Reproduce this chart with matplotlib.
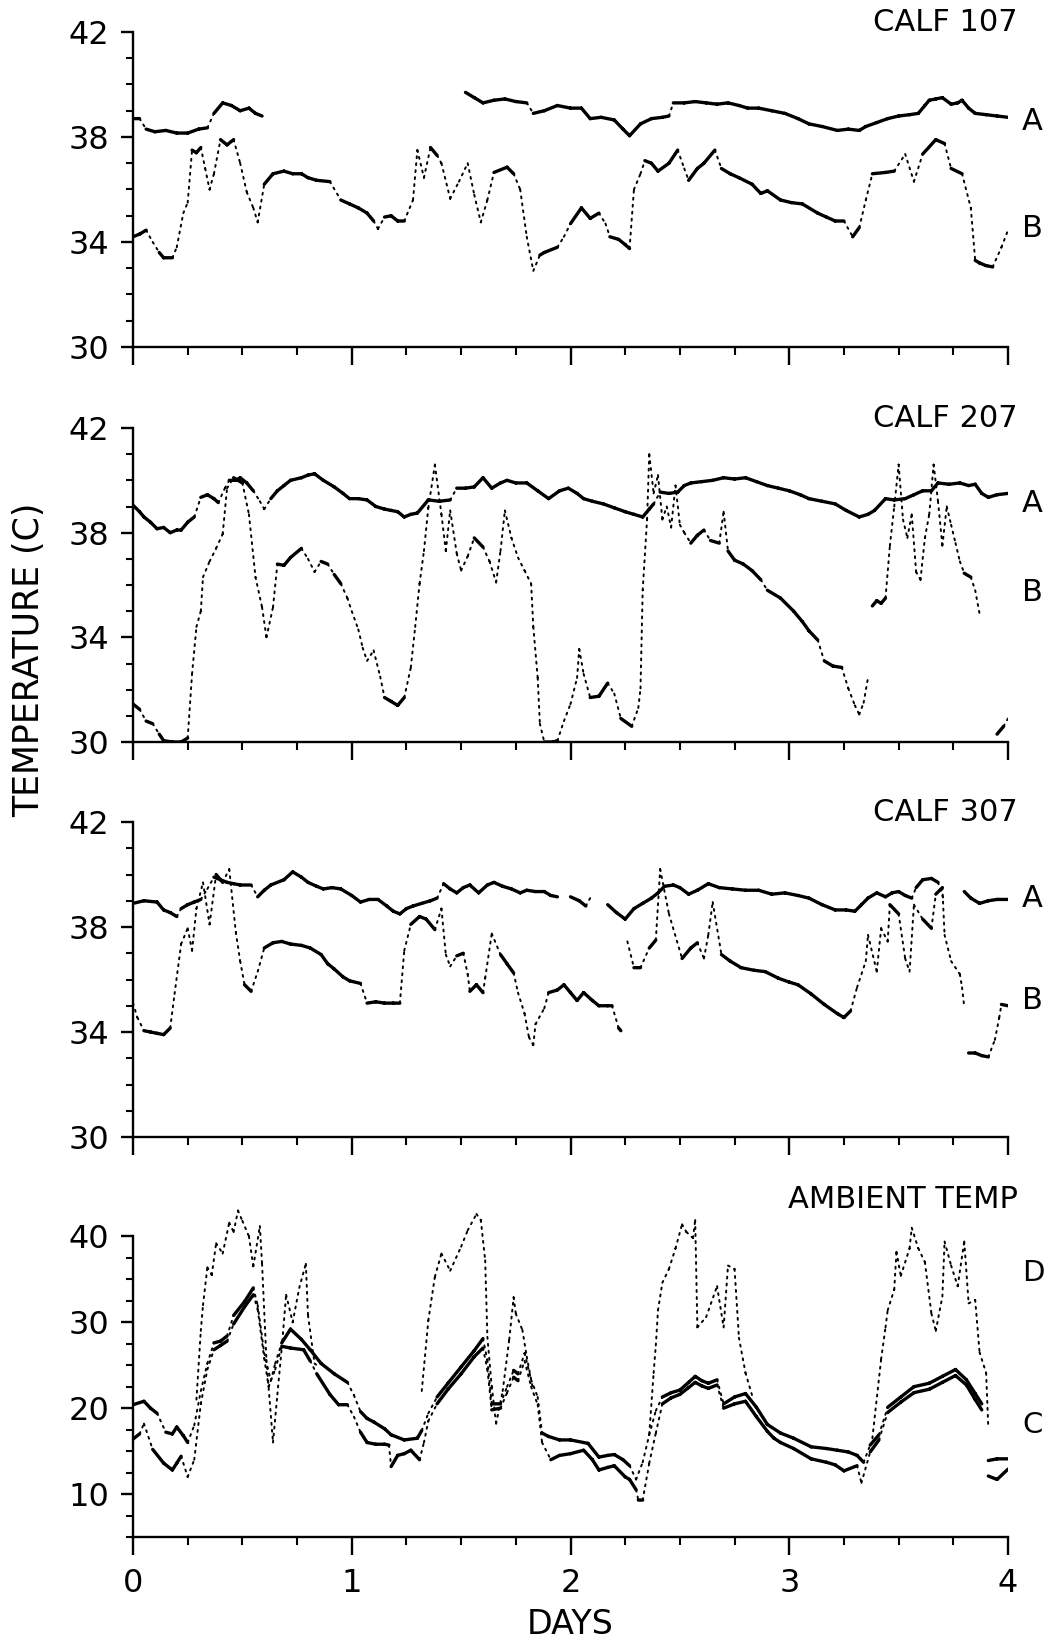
import numpy as np
import matplotlib
matplotlib.use("Agg")
import matplotlib.pyplot as plt
from matplotlib.ticker import MultipleLocator, FixedLocator

nan = float("nan")

# ---------------- data ----------------
calf107_a_day = [0.00, 0.03, 0.06, 0.10, 0.15, 0.20, 0.25, 0.30, 0.34, 0.37, 0.41, 0.45, 0.49, 0.53, 0.56, 0.59, 0.80,
                 1.52, 1.56, 1.60, 1.65, 1.70, 1.75, 1.80, 1.83, 1.88, 1.94, 2.00, 2.05, 2.09, 2.14, 2.20, 2.24, 2.27,
                 2.32, 2.37, 2.42, 2.45, 2.47, 2.52, 2.57, 2.62, 2.67, 2.72, 2.77, 2.81, 2.86, 2.92, 2.98, 3.04, 3.09,
                 3.15, 3.22, 3.27, 3.32, 3.35, 3.40, 3.45, 3.50, 3.55, 3.59, 3.62, 3.64, 3.67, 3.70, 3.74, 3.77, 3.79,
                 3.82, 3.85, 3.90, 3.95, 4.00]
calf107_a_temp = [38.7, 38.7, 38.3, 38.2, 38.25, 38.15, 38.15, 38.3, 38.35, 38.9, 39.3, 39.2, 39.0, 39.1, 38.9, 38.8, nan,
                  39.7, 39.5, 39.3, 39.4, 39.45, 39.35, 39.3, 38.9, 39.0, 39.2, 39.1, 39.1, 38.7, 38.75, 38.65, 38.3, 38.05,
                  38.5, 38.7, 38.75, 38.8, 39.3, 39.3, 39.35, 39.3, 39.25, 39.3, 39.2, 39.1, 39.1, 39.0, 38.9, 38.7, 38.5,
                  38.4, 38.25, 38.3, 38.25, 38.4, 38.55, 38.7, 38.8, 38.85, 38.9, 39.2, 39.4, 39.45, 39.5, 39.25, 39.3, 39.4,
                  39.1, 38.9, 38.85, 38.8, 38.75]

calf107_b_day = [0.00, 0.03, 0.06, 0.09, 0.12, 0.14, 0.18, 0.20, 0.23, 0.25, 0.27, 0.29, 0.31, 0.33, 0.35, 0.37, 0.40,
                 0.43, 0.46, 0.49, 0.52, 0.55, 0.57, 0.60, 0.64, 0.69, 0.73, 0.77, 0.80, 0.84, 0.90, 0.95, 0.99, 1.03,
                 1.07, 1.10, 1.12, 1.15, 1.18, 1.21, 1.24, 1.28, 1.30, 1.33, 1.36, 1.39, 1.41, 1.45, 1.49, 1.53, 1.56,
                 1.59, 1.62, 1.65, 1.71, 1.74, 1.77, 1.80, 1.83, 1.86, 1.88, 1.94, 1.97, 2.00, 2.05, 2.09, 2.13, 2.16,
                 2.18, 2.22, 2.25, 2.27, 2.29, 2.32, 2.34, 2.37, 2.40, 2.45, 2.49, 2.52, 2.54, 2.58, 2.61, 2.66, 2.69,
                 2.73, 2.77, 2.83, 2.87, 2.90, 2.96, 3.01, 3.06, 3.13, 3.17, 3.21, 3.25, 3.29, 3.32, 3.35, 3.38, 3.44,
                 3.48, 3.53, 3.57, 3.61, 3.67, 3.71, 3.74, 3.79, 3.83, 3.85, 3.87, 3.90, 3.93, 3.97, 4.00]
calf107_b_temp = [34.2, 34.3, 34.45, 34.0, 33.6, 33.4, 33.4, 33.8, 35.1, 35.5, 37.5, 37.4, 37.6, 36.8, 36.0, 36.6, 37.9,
                  37.7, 37.9, 37.0, 35.9, 35.3, 34.75, 36.2, 36.6, 36.7, 36.6, 36.6, 36.45, 36.35, 36.3, 35.6, 35.45, 35.3,
                  35.1, 34.8, 34.5, 34.95, 35.0, 34.8, 34.8, 35.6, 37.5, 36.45, 37.6, 37.3, 37.0, 35.65, 36.3, 37.0, 35.8,
                  34.75, 35.6, 36.65, 36.85, 36.6, 36.0, 34.2, 32.9, 33.5, 33.6, 33.8, 34.2, 34.7, 35.3, 34.9, 35.1, 34.7,
                  34.2, 34.1, 33.9, 33.75, 36.0, 36.6, 37.1, 37.0, 36.7, 37.0, 37.5, 36.8, 36.35, 36.8, 37.0, 37.5, 36.8,
                  36.6, 36.45, 36.2, 35.85, 35.95, 35.6, 35.5, 35.45, 35.1, 34.95, 34.8, 34.8, 34.2, 34.55, 35.6, 36.6, 36.65,
                  36.7, 37.35, 36.3, 37.35, 37.9, 37.75, 36.8, 36.6, 35.3, 33.3, 33.2, 33.1, 33.05, 33.8, 34.45]

calf207_a_day = [0.00, 0.03, 0.05, 0.08, 0.11, 0.14, 0.17, 0.20, 0.22, 0.25, 0.28, 0.31, 0.34, 0.37, 0.39, 0.42, 0.44,
                 0.47, 0.49, 0.52, 0.55, 0.58, 0.60, 0.63, 0.66, 0.69, 0.72, 0.77, 0.80, 0.83, 0.87, 0.92, 0.96, 0.99,
                 1.03, 1.07, 1.11, 1.15, 1.18, 1.21, 1.24, 1.27, 1.30, 1.35, 1.40, 1.45, 1.48, 1.52, 1.56, 1.60, 1.64,
                 1.68, 1.71, 1.75, 1.80, 1.85, 1.90, 1.95, 1.99, 2.03, 2.06, 2.10, 2.15, 2.20, 2.25, 2.29, 2.33, 2.36,
                 2.38, 2.41, 2.45, 2.49, 2.52, 2.55, 2.60, 2.65, 2.70, 2.75, 2.80, 2.85, 2.90, 2.95, 3.00, 3.05, 3.09,
                 3.15, 3.21, 3.26, 3.32, 3.36, 3.39, 3.44, 3.48, 3.53, 3.57, 3.61, 3.65, 3.68, 3.73, 3.78, 3.82, 3.85,
                 3.88, 3.91, 3.95, 4.00]
calf207_a_temp = [39.05, 38.8, 38.6, 38.4, 38.15, 38.2, 38.0, 38.1, 38.1, 38.4, 38.6, 39.35, 39.45, 39.3, 39.15, 39.7, 40.0,
                  40.0, 40.1, 39.9, 39.6, 39.2, 38.9, 39.3, 39.6, 39.8, 40.0, 40.1, 40.2, 40.25, 40.0, 39.75, 39.5, 39.3,
                  39.3, 39.25, 39.0, 38.9, 38.85, 38.8, 38.6, 38.7, 38.75, 39.25, 39.2, 39.25, 39.7, 39.7, 39.75, 40.1, 39.7,
                  39.9, 40.0, 39.9, 39.9, 39.6, 39.3, 39.6, 39.7, 39.5, 39.3, 39.2, 39.1, 38.95, 38.8, 38.7, 38.6, 38.9,
                  39.1, 39.55, 39.5, 39.55, 39.8, 39.9, 39.95, 40.0, 40.1, 40.05, 40.1, 39.95, 39.8, 39.7, 39.6, 39.45, 39.3,
                  39.2, 39.1, 38.85, 38.6, 38.7, 38.85, 39.3, 39.25, 39.3, 39.45, 39.6, 39.6, 39.9, 39.85, 39.9, 39.8, 39.85,
                  39.5, 39.35, 39.45, 39.5]

calf207_b_day = [0.00, 0.03, 0.06, 0.09, 0.12, 0.14, 0.18, 0.22, 0.25, 0.27, 0.29, 0.31, 0.32, 0.35, 0.38, 0.41, 0.43,
                 0.46, 0.50, 0.53, 0.56, 0.59, 0.61, 0.64, 0.66, 0.69, 0.72, 0.77, 0.80, 0.83, 0.86, 0.89, 0.92, 0.95,
                 0.98, 1.00, 1.03, 1.05, 1.07, 1.10, 1.13, 1.15, 1.18, 1.21, 1.24, 1.27, 1.29, 1.31, 1.33, 1.35, 1.38,
                 1.41, 1.43, 1.45, 1.48, 1.50, 1.53, 1.56, 1.60, 1.63, 1.66, 1.68, 1.70, 1.73, 1.76, 1.79, 1.82, 1.83,
                 1.85, 1.86, 1.88, 1.92, 1.94, 1.97, 2.00, 2.03, 2.04, 2.06, 2.09, 2.13, 2.17, 2.20, 2.23, 2.28, 2.31,
                 2.32, 2.33, 2.35, 2.36, 2.38, 2.40, 2.42, 2.44, 2.46, 2.48, 2.50, 2.52, 2.55, 2.58, 2.61, 2.64, 2.68,
                 2.70, 2.72, 2.75, 2.79, 2.83, 2.87, 2.90, 2.96, 3.02, 3.06, 3.09, 3.13, 3.16, 3.20, 3.24, 3.27, 3.30,
                 3.32, 3.34, 3.36, 3.37, 3.38, 3.40, 3.42, 3.44, 3.46, 3.48, 3.50, 3.52, 3.54, 3.56, 3.58, 3.60, 3.62,
                 3.64, 3.66, 3.68, 3.70, 3.72, 3.74, 3.76, 3.78, 3.80, 3.83, 3.85, 3.87, 3.91, 3.95, 3.98, 4.00]
calf207_b_temp = [31.45, 31.25, 30.8, 30.7, 30.3, 30.05, 30.0, 30.0, 30.15, 32.6, 34.4, 35.0, 36.3, 36.9, 37.4, 37.95, 39.7,
                  40.1, 39.9, 38.7, 36.3, 35.15, 34.0, 35.15, 36.8, 36.75, 37.05, 37.4, 37.0, 36.5, 36.9, 36.8, 36.4, 36.05,
                  35.5, 35.0, 34.3, 33.6, 33.1, 33.5, 32.5, 31.7, 31.55, 31.4, 31.7, 32.85, 34.4, 36.05, 37.3, 38.95, 40.6,
                  38.7, 37.3, 38.85, 37.2, 36.55, 37.1, 37.8, 37.45, 36.9, 36.1, 37.3, 38.85, 37.8, 37.05, 36.55, 36.05, 34.4,
                  32.45, 30.7, 30.0, 30.0, 30.05, 30.8, 31.45, 32.45, 33.55, 32.6, 31.7, 31.75, 32.25, 31.85, 30.9, 30.6, 31.3,
                  32.05, 35.8, 38.5, 41.0, 39.5, 40.2, 38.5, 39.0, 38.2, 39.8, 38.3, 38.0, 37.6, 37.9, 38.1, 37.7, 37.6,
                  38.8, 37.3, 36.95, 36.8, 36.55, 36.2, 35.8, 35.5, 35.0, 34.6, 34.25, 33.9, 33.1, 32.9, 32.85, 32.05, 31.4,
                  31.05, 31.5, 32.45, nan, 35.2, 35.4, 35.3, 35.5, 37.5, 39.0, 40.6, 38.5, 37.8, 38.7, 36.5, 36.2, 37.8,
                  38.7, 40.6, 39.2, 37.5, 39.0, 38.3, 37.6, 36.9, 36.45, 36.3, 35.8, 34.9, nan, 30.3, 30.6, 30.9]

calf307_a_day = [0.00, 0.05, 0.11, 0.14, 0.17, 0.20, 0.22, 0.25, 0.28, 0.31, 0.34, 0.37, 0.40, 0.43, 0.46, 0.49, 0.54,
                 0.57, 0.60, 0.63, 0.69, 0.73, 0.77, 0.80, 0.84, 0.87, 0.91, 0.95, 1.00, 1.04, 1.08, 1.12, 1.16, 1.19,
                 1.22, 1.25, 1.28, 1.32, 1.36, 1.39, 1.42, 1.45, 1.48, 1.51, 1.54, 1.58, 1.62, 1.65, 1.69, 1.73, 1.77,
                 1.80, 1.84, 1.88, 1.91, 1.94, 1.97, 2.00, 2.04, 2.07, 2.09, 2.13, 2.17, 2.21, 2.25, 2.29, 2.33, 2.37,
                 2.40, 2.43, 2.47, 2.50, 2.54, 2.58, 2.63, 2.68, 2.74, 2.80, 2.86, 2.92, 2.98, 3.04, 3.09, 3.15, 3.21,
                 3.26, 3.30, 3.33, 3.36, 3.40, 3.44, 3.47, 3.50, 3.53, 3.56, 3.58, 3.61, 3.65, 3.68, 3.71, 3.75, 3.80,
                 3.83, 3.87, 3.91, 3.95, 4.00]
calf307_a_temp = [38.9, 39.0, 38.95, 38.65, 38.55, 38.4, 38.7, 38.85, 38.95, 39.05, 39.45, 39.9, 39.8, 39.7, 39.65, 39.6, 39.6,
                  39.15, 39.4, 39.6, 39.8, 40.1, 39.9, 39.7, 39.55, 39.45, 39.5, 39.45, 39.2, 38.95, 39.05, 39.05, 38.8, 38.6,
                  38.5, 38.7, 38.8, 38.9, 39.0, 39.1, 39.65, 39.45, 39.3, 39.5, 39.6, 39.3, 39.6, 39.7, 39.55, 39.45, 39.3,
                  39.4, 39.35, 39.35, 39.2, 39.15, nan, 39.15, 39.0, 38.8, 39.1, nan, 38.85, 38.55, 38.3, 38.7, 38.9, 39.1,
                  39.3, 39.55, 39.6, 39.5, 39.25, 39.4, 39.65, 39.5, 39.45, 39.4, 39.4, 39.25, 39.3, 39.2, 39.1, 38.85, 38.65,
                  38.65, 38.6, 38.85, 39.1, 39.3, 39.15, 39.3, 39.35, 39.2, 39.1, 39.5, 39.8, 39.85, 39.7, 38.95, nan, 39.35,
                  39.1, 38.9, 39.0, 39.05, 39.05]

calf307_b_day = [0.00, 0.02, 0.05, 0.08, 0.11, 0.14, 0.17, 0.19, 0.22, 0.25, 0.27, 0.29, 0.32, 0.35, 0.38, 0.41, 0.44,
                 0.47, 0.49, 0.51, 0.54, 0.57, 0.60, 0.64, 0.68, 0.72, 0.77, 0.81, 0.86, 0.89, 0.92, 0.96, 0.99, 1.04,
                 1.07, 1.11, 1.15, 1.19, 1.22, 1.24, 1.27, 1.31, 1.34, 1.38, 1.41, 1.43, 1.45, 1.48, 1.51, 1.53, 1.54,
                 1.57, 1.60, 1.61, 1.64, 1.68, 1.71, 1.74, 1.76, 1.79, 1.81, 1.83, 1.84, 1.88, 1.90, 1.94, 1.97, 2.00,
                 2.03, 2.06, 2.10, 2.13, 2.17, 2.19, 2.22, 2.23, 2.245, 2.26, 2.29, 2.32, 2.36, 2.39, 2.41, 2.45, 2.51,
                 2.55, 2.58, 2.61, 2.63, 2.65, 2.69, 2.73, 2.78, 2.84, 2.89, 2.95, 3.00, 3.04, 3.10, 3.16, 3.22, 3.25,
                 3.28, 3.31, 3.35, 3.36, 3.40, 3.42, 3.45, 3.46, 3.50, 3.53, 3.55, 3.57, 3.61, 3.65, 3.67, 3.70, 3.71,
                 3.74, 3.78, 3.79, 3.80, 3.81, 3.82, 3.85, 3.88, 3.91, 3.94, 3.96, 3.97, 4.00]
calf307_b_temp = [35.1, 34.55, 34.05, 34.0, 33.95, 33.9, 34.15, 35.45, 37.35, 37.95, 37.1, 38.7, 39.7, 38.1, 40.0, 39.7, 40.2,
                  37.8, 36.7, 35.8, 35.55, 36.3, 37.2, 37.4, 37.45, 37.35, 37.3, 37.2, 36.95, 36.6, 36.4, 36.1, 35.95, 35.85,
                  35.1, 35.15, 35.1, 35.1, 35.1, 37.1, 38.1, 38.4, 38.3, 37.9, 38.7, 36.95, 36.5, 36.9, 37.0, 36.2, 35.55,
                  35.8, 35.5, 36.05, 37.75, 36.95, 36.6, 36.25, 35.5, 34.7, 33.8, 33.5, 34.3, 34.9, 35.5, 35.6, 35.8, 35.5,
                  35.2, 35.5, 35.2, 35.0, 35.0, 35.0, 34.15, 34.05, nan, 37.45, 36.45, 36.45, 37.2, 37.5, 40.2, 38.5, 36.8,
                  37.2, 37.4, 36.8, 37.7, 38.95, 36.95, 36.7, 36.45, 36.35, 36.3, 36.05, 35.9, 35.8, 35.45, 35.05, 34.7, 34.55,
                  34.8, 35.7, 36.7, 37.7, 36.3, 37.95, 37.45, 38.85, 38.5, 36.8, 36.3, 38.85, 38.3, 37.95, 39.25, 39.5, 37.7,
                  36.7, 36.2, 35.7, 34.95, nan, 33.2, 33.2, 33.1, 33.05, 33.7, 34.55, 35.05, 35.0]

ambient_c1_day = [0.00, 0.05, 0.08, 0.11, 0.15, 0.18, 0.20, 0.23, 0.25, 0.28, 0.31, 0.34, 0.37, 0.40, 0.43, 0.46, 0.51,
                  0.55, 0.57, 0.60, 0.63, 0.65, 0.68, 0.72, 0.77, 0.81, 0.86, 0.92, 0.98, 1.01, 1.04, 1.07, 1.10, 1.15,
                  1.18, 1.24, 1.30, 1.32, 1.35, 1.39, 1.44, 1.50, 1.56, 1.60, 1.62, 1.64, 1.68, 1.71, 1.74, 1.76, 1.79,
                  1.82, 1.85, 1.87, 1.90, 1.95, 2.00, 2.08, 2.13, 2.17, 2.20, 2.24, 2.27, 2.30, 2.33, 2.36, 2.39, 2.42,
                  2.46, 2.50, 2.54, 2.57, 2.60, 2.63, 2.67, 2.70, 2.75, 2.80, 2.85, 2.90, 2.96, 3.02, 3.10, 3.17, 3.22,
                  3.27, 3.31, 3.34, 3.37, 3.41, 3.45, 3.51, 3.57, 3.64, 3.70, 3.76, 3.81, 3.85, 3.88, 3.895, 3.91, 3.95,
                  4.00]
ambient_c1_temp = [20.4, 20.8, 20.0, 19.4, 17.2, 17.0, 17.8, 16.8, 16.0, 18.0, 22.0, 25.2, 27.6, 27.8, 28.4, 30.8, 32.4,
                   34.0, 32.0, 26.4, 23.2, 25.2, 27.6, 29.2, 28.0, 26.8, 25.2, 24.0, 23.0, 21.5, 19.6, 18.8, 18.4, 17.6,
                   16.9, 16.3, 16.5, 17.4, 19.4, 21.3, 22.9, 24.8, 26.7, 28.1, 25.6, 20.5, 20.5, 22.5, 24.4, 24.0, 26.4,
                   23.3, 21.3, 17.1, 16.7, 16.3, 16.3, 15.9, 14.3, 14.5, 14.6, 14.0, 13.3, 11.7, 13.7, 16.9, 19.7, 21.3,
                   21.8, 22.1, 23.0, 23.7, 23.2, 22.9, 23.3, 20.5, 21.3, 21.7, 20.1, 18.1, 17.1, 16.5, 15.5, 15.3, 15.1,
                   14.9, 14.5, 13.7, 15.7, 16.9, 20.1, 21.3, 22.5, 22.9, 23.7, 24.5, 23.3, 21.7, 20.5, nan, 13.9, 14.1,
                   14.1]

ambient_c2_day = [0.00, 0.03, 0.05, 0.09, 0.14, 0.18, 0.20, 0.22, 0.25, 0.28, 0.31, 0.34, 0.37, 0.40, 0.43, 0.46, 0.51,
                  0.55, 0.57, 0.60, 0.62, 0.65, 0.68, 0.72, 0.78, 0.81, 0.84, 0.90, 0.94, 0.98, 1.01, 1.04, 1.07, 1.11,
                  1.15, 1.17, 1.18, 1.21, 1.24, 1.27, 1.31, 1.33, 1.35, 1.39, 1.44, 1.50, 1.56, 1.60, 1.62, 1.64, 1.68,
                  1.71, 1.74, 1.76, 1.79, 1.82, 1.85, 1.87, 1.91, 1.95, 2.00, 2.06, 2.10, 2.13, 2.17, 2.20, 2.25, 2.27,
                  2.30, 2.31, 2.33, 2.36, 2.39, 2.42, 2.46, 2.50, 2.54, 2.57, 2.60, 2.63, 2.67, 2.70, 2.75, 2.80, 2.85,
                  2.90, 2.93, 2.96, 3.02, 3.10, 3.17, 3.21, 3.25, 3.31, 3.33, 3.37, 3.41, 3.45, 3.51, 3.57, 3.64, 3.70,
                  3.76, 3.81, 3.85, 3.88, 3.895, 3.91, 3.95, 4.00]
ambient_c2_temp = [16.4, 17.0, 18.2, 15.2, 13.6, 12.8, 13.6, 14.4, 12.0, 14.0, 20.5, 24.5, 26.8, 27.3, 27.8, 29.8, 31.8,
                   33.2, 31.5, 25.8, 22.5, 24.5, 27.2, 27.0, 26.8, 25.5, 24.0, 21.6, 20.4, 20.4, 19.0, 17.2, 16.0, 15.8,
                   15.8, 15.7, 13.2, 14.5, 14.7, 15.1, 14.0, 16.0, 18.5, 20.5, 22.2, 24.0, 26.0, 27.0, 24.5, 19.8, 20.0,
                   21.8, 23.6, 23.2, 25.5, 22.5, 20.4, 16.0, 14.0, 14.5, 14.7, 15.1, 14.0, 12.8, 13.1, 13.3, 12.0, 11.7,
                   10.5, 9.3, 9.3, 13.6, 17.1, 20.5, 21.2, 21.6, 22.4, 23.0, 22.6, 22.3, 22.7, 20.0, 20.5, 20.8, 19.0,
                   17.3, 16.5, 16.0, 15.3, 14.1, 13.7, 13.4, 12.7, 13.3, 11.3, 14.9, 16.3, 19.5, 20.7, 21.8, 22.2, 23.0,
                   23.8, 22.7, 21.0, 19.8, nan, 12.1, 11.7, 12.9]

ambient_d_day = [0.29, 0.31, 0.32, 0.34, 0.36, 0.38, 0.41, 0.44, 0.46, 0.48, 0.50, 0.53, 0.55, 0.58, 0.59, 0.61, 0.64,
                 0.66, 0.68, 0.70, 0.73, 0.76, 0.79, 0.80, 0.83, 0.85, 1.00,
                 1.32, 1.35, 1.38, 1.41, 1.45, 1.50, 1.53, 1.57, 1.59, 1.61, 1.62, 1.64, 1.66, 1.69, 1.72, 1.74, 1.75,
                 1.78, 1.80, 1.83, 2.00,
                 2.36, 2.38, 2.39, 2.40, 2.42, 2.45, 2.48, 2.51, 2.53, 2.56, 2.57, 2.58, 2.62, 2.67, 2.70, 2.72, 2.75,
                 2.77, 2.80, 2.83, 3.00,
                 3.38, 3.42, 3.44, 3.45, 3.48, 3.49, 3.51, 3.55, 3.56, 3.59, 3.62, 3.65, 3.67, 3.70, 3.71, 3.74, 3.77,
                 3.80, 3.82, 3.85, 3.87, 3.90, 3.91]
ambient_d_temp = [21.0, 29.0, 32.0, 36.4, 35.5, 39.2, 38.0, 41.6, 40.5, 43.0, 41.8, 40.0, 36.5, 41.2, 36.8, 25.6, 16.0,
                  21.6, 27.0, 33.2, 30.0, 34.0, 36.8, 30.8, 25.2, 24.8, nan,
                  22.0, 30.2, 35.3, 38.0, 36.0, 38.8, 40.7, 42.6, 41.9, 37.2, 28.3, 22.5, 18.2, 22.0, 28.0, 32.9, 31.0,
                  29.1, 26.0, 22.0, nan,
                  17.0, 24.1, 27.3, 31.4, 34.6, 36.2, 38.6, 41.4, 40.5, 39.8, 41.9, 29.4, 30.6, 34.2, 29.4, 36.6, 36.2,
                  28.2, 24.1, 21.5, nan,
                  16.5, 25.7, 29.4, 31.4, 33.8, 38.2, 35.4, 38.6, 41.0, 38.6, 37.0, 31.0, 29.0, 33.0, 39.4, 36.6, 34.2,
                  39.4, 32.2, 32.6, 26.5, 24.1, 17.7]

day_ticks = [0, 1, 2, 3, 4]
calf_ticks = [30, 34, 38, 42]
ambient_ticks = [10, 20, 30, 40]
ambient_minor = [5, 7.5, 12.5, 15, 17.5, 22.5, 25, 27.5, 32.5, 35, 37.5]
panel_titles = ["CALF 107", "CALF 207", "CALF 307", "AMBIENT TEMP"]

# ---------------- figure ----------------
W_PX, H_PX = 1050, 1643
plt.rcParams["font.family"] = ["DejaVu Sans"]
fig = plt.figure(figsize=(W_PX / 100, H_PX / 100), dpi=100)

LEFT, RIGHT = 133, 1008
boxes = [(32, 347), (428, 742), (822, 1137), (1202, 1537)]
axes = []
for (top, bot) in boxes:
    ax = fig.add_axes([LEFT / W_PX, 1 - bot / H_PX, (RIGHT - LEFT) / W_PX, (bot - top) / H_PX])
    axes.append(ax)


def style_axis(ax, ylo, yhi, ticks, spine_top, show_x):
    ax.set_xlim(0, 4)
    ax.set_ylim(ylo, yhi)
    for s in ("top", "right"):
        ax.spines[s].set_visible(False)
    for s in ("left", "bottom"):
        ax.spines[s].set_linewidth(1.7)
    ax.spines["left"].set_bounds(ylo, spine_top)
    ax.set_yticks(ticks)
    ax.set_xticks(day_ticks)
    ax.xaxis.set_minor_locator(MultipleLocator(0.25))
    ax.tick_params(axis="y", which="major", direction="out", length=9, width=1.7,
                   labelsize=23, pad=8)
    ax.tick_params(axis="y", which="minor", direction="out", length=5, width=1.5)
    ax.tick_params(axis="x", which="major", direction="out", length=13, width=1.7,
                   labelsize=23, pad=9, labelbottom=show_x)
    ax.tick_params(axis="x", which="minor", direction="out", length=6, width=1.5)


def draw_trace(ax, x, y, ppx, ppy, lw=2.4, always_dotted=False, thresh=1.5):
    x = np.asarray(x, float)
    y = np.asarray(y, float)
    sx, sy, dx, dy = [], [], [], []
    for i in range(len(x) - 1):
        if np.isnan(y[i]) or np.isnan(y[i + 1]):
            continue
        steep = abs(y[i + 1] - y[i]) * ppy > thresh * abs(x[i + 1] - x[i]) * ppx
        if steep or always_dotted:
            dx += [x[i], x[i + 1], nan]
            dy += [y[i], y[i + 1], nan]
        else:
            sx += [x[i], x[i + 1], nan]
            sy += [y[i], y[i + 1], nan]
    ax.plot(sx, sy, color="black", lw=lw, solid_capstyle="round", solid_joinstyle="round")
    ax.plot(dx, dy, color="black", lw=1.4, ls=(0, (1, 2.6)), dash_capstyle="round")


PPX = (RIGHT - LEFT) / 4.0
calf_sets = [(calf107_a_day, calf107_a_temp, calf107_b_day, calf107_b_temp),
             (calf207_a_day, calf207_a_temp, calf207_b_day, calf207_b_temp),
             (calf307_a_day, calf307_a_temp, calf307_b_day, calf307_b_temp)]
ab_y = [(38.6, 34.5), (39.1, 35.7), (39.1, 35.2)]

for k in range(3):
    ax = axes[k]
    top, bot = boxes[k]
    ppy = (bot - top) / 12.0
    style_axis(ax, 30, 42, calf_ticks, 42, False)
    ax.yaxis.set_minor_locator(MultipleLocator(1))
    ad, at, bd, bt = calf_sets[k]
    draw_trace(ax, ad, at, PPX, ppy)
    draw_trace(ax, bd, bt, PPX, ppy)
    ax.text(4.046, 42.35, panel_titles[k], ha="right", va="center", fontsize=22, clip_on=False)
    ya, yb = ab_y[k]
    ax.text(4.065, ya, "A", ha="left", va="center", fontsize=22, clip_on=False)
    ax.text(4.065, yb, "B", ha="left", va="center", fontsize=22, clip_on=False)

# ambient panel
ax = axes[3]
top, bot = boxes[3]
ppy4 = (bot - top) / 39.0
style_axis(ax, 5, 44, ambient_ticks, 40, True)
ax.yaxis.set_minor_locator(FixedLocator(ambient_minor))
draw_trace(ax, ambient_c1_day, ambient_c1_temp, PPX, ppy4, thresh=1.8)
draw_trace(ax, ambient_c2_day, ambient_c2_temp, PPX, ppy4, thresh=1.8)
draw_trace(ax, ambient_d_day, ambient_d_temp, PPX, ppy4, always_dotted=True)
ax.text(4.046, 44.3, panel_titles[3], ha="right", va="center", fontsize=22, clip_on=False)
ax.text(4.065, 35.7, "D", ha="left", va="center", fontsize=21, clip_on=False)
ax.text(4.065, 18.0, "C", ha="left", va="center", fontsize=21, clip_on=False)
ax.set_xticklabels([str(d) for d in day_ticks])

fig.text(29 / W_PX, 1 - 660 / H_PX, "TEMPERATURE (C)", rotation=90, ha="center", va="center", fontsize=25)
fig.text(570 / W_PX, 1 - 1624 / H_PX, "DAYS", ha="center", va="center", fontsize=24)

fig.savefig("out.png", dpi=100)
